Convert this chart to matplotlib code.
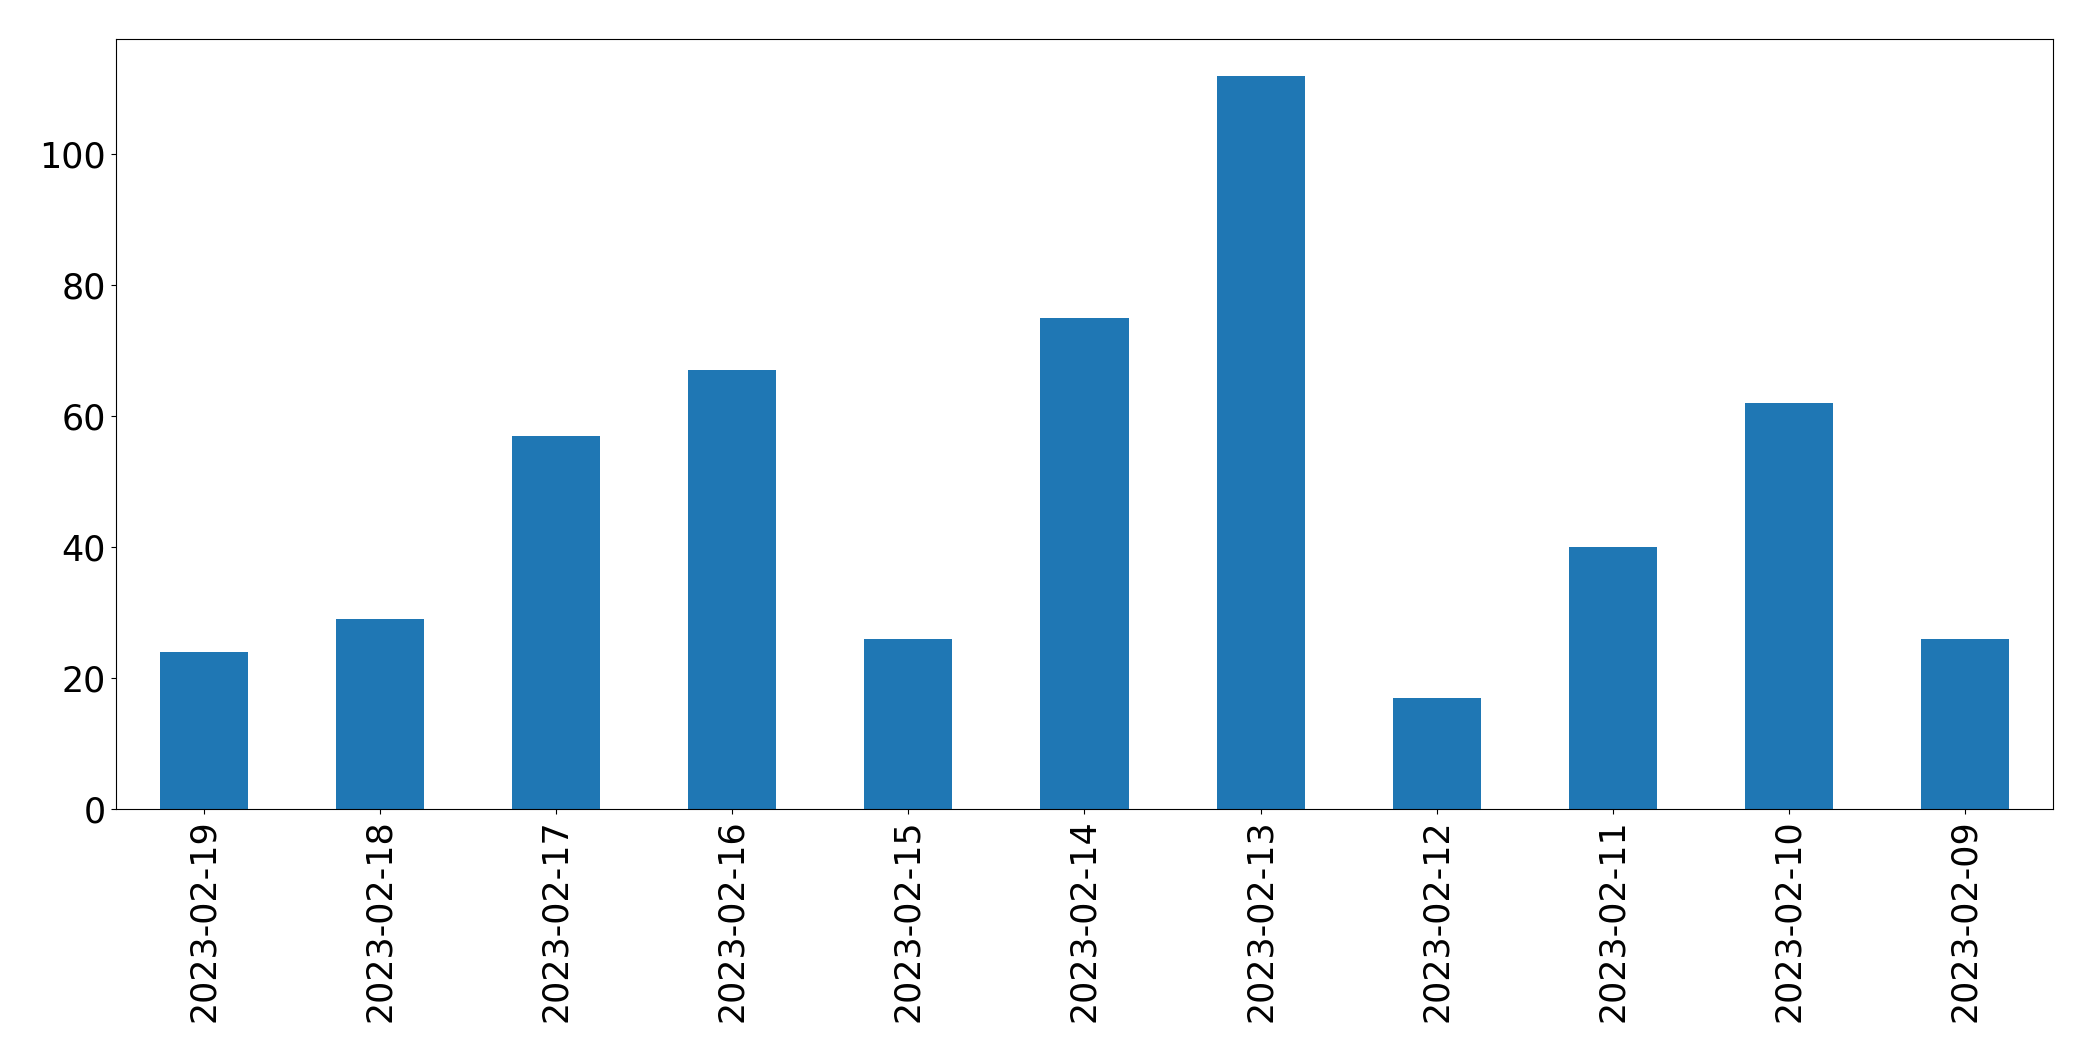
import matplotlib
matplotlib.use("Agg")
import matplotlib.pyplot as plt

dates = ["2023-02-19", "2023-02-18", "2023-02-17", "2023-02-16", "2023-02-15",
         "2023-02-14", "2023-02-13", "2023-02-12", "2023-02-11", "2023-02-10",
         "2023-02-09"]
counts = [24, 29, 57, 67, 26, 75, 112, 17, 40, 62, 26]

fig = plt.figure(figsize=(20.93, 10.61), dpi=100)
ax = fig.add_axes([0.0554, 0.2375, 0.9809 - 0.0554, 0.9632 - 0.2375])
x = list(range(len(dates)))
ax.bar(x, counts, width=0.5, color="#1f77b4")
ax.set_xlim(-0.5, len(dates) - 0.5)
ax.set_xticks(x)
ax.set_xticklabels(dates, rotation=90)
ax.set_yticks([0, 20, 40, 60, 80, 100])
ax.tick_params(axis="both", labelsize=25.1, length=3.8)
fig.savefig("out.png", dpi=100)
